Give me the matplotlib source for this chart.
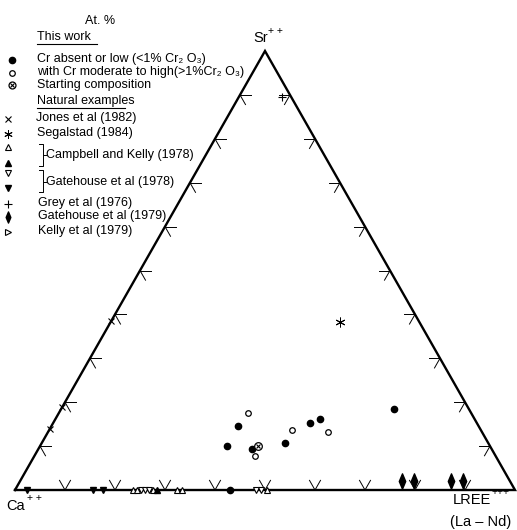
import numpy as np
import matplotlib
matplotlib.use("Agg")
import matplotlib.pyplot as plt
from matplotlib.path import Path

FONT = ["Liberation Sans", "DejaVu Sans"]
plt.rcParams["font.family"] = FONT

# ---- compositions (atomic fractions: Sr, LREE; Ca is the remainder) ----
# This work: Cr absent or low
low_cr_sr = [0.146, 0.100, 0.093, 0.107, 0.153, 0.162, 0.1845, 0.0]
low_cr_lree = [0.373, 0.374, 0.4275, 0.4865, 0.5135, 0.529, 0.666, 0.43]
# This work: Cr moderate to high
high_cr_sr = [0.175, 0.137, 0.132, 0.0775]
high_cr_lree = [0.3785, 0.4855, 0.560, 0.441]
# Starting composition
start_sr = [0.100]
start_lree = [0.436]
# Jones et al (1982)
jones_sr = [0.385, 0.190, 0.140]
jones_lree = [0.0, 0.0, 0.0]
# Segalstad (1984)
segalstad_sr = [0.383]
segalstad_lree = [0.4585]
# Campbell and Kelly (1978): open and filled
ck_open_sr = [0.0, 0.0, 0.0, 0.0, 0.0, 0.0]
ck_open_lree = [0.236, 0.245, 0.276, 0.324, 0.334, 0.504]
ck_fill_sr = [0.0]
ck_fill_lree = [0.284]
# Gatehouse et al (1978): open and filled
g78_open_sr = [0.0, 0.0, 0.0, 0.0, 0.0]
g78_open_lree = [0.252, 0.260, 0.268, 0.482, 0.492]
g78_fill_sr = [0.0, 0.0, 0.0]
g78_fill_lree = [0.024, 0.156, 0.176]
# Grey et al (1976)
grey_sr = [0.895]
grey_lree = [0.0865]
# Gatehouse et al (1979)
g79_sr = [0.02, 0.02, 0.02, 0.02]
g79_lree = [0.764, 0.788, 0.862, 0.886]

tick_fracs = [0.1, 0.2, 0.3, 0.4, 0.5, 0.6, 0.7, 0.8, 0.9]


def tern(sr, lree):
    sr = np.asarray(sr, float)
    lree = np.asarray(lree, float)
    return lree + sr / 2.0, sr


fig = plt.figure(figsize=(5.17, 5.30), dpi=100)
ax = fig.add_axes([0, 0, 1, 1])
ax.set_xlim(-0.03, 1.004)
ax.set_ylim(-0.0911, 1.1162)
ax.axis("off")

# triangle outline
tx, ty = tern([0, 1, 0, 0], [0, 0, 1, 0])
ax.plot(tx, ty, color="black", lw=1.7, solid_joinstyle="miter", zorder=2)

# chevron ticks along each side
d = 0.022
tk = dict(color="black", lw=0.7, zorder=2)
for f in tick_fracs:
    # Ca-Sr side
    x0, y0 = tern(f, 0)
    ax.plot([x0, x0 + d], [y0, y0], **tk)
    ax.plot([x0, x0 + d / 2], [y0, y0 - d], **tk)
    # Sr-LREE side
    x0, y0 = tern(f, 1 - f)
    ax.plot([x0, x0 - d], [y0, y0], **tk)
    ax.plot([x0, x0 - d / 2], [y0, y0 - d], **tk)
    # Ca-LREE side
    x0, y0 = tern(0, f)
    ax.plot([x0, x0 + d / 2], [y0, y0 + d], **tk)
    ax.plot([x0, x0 - d / 2], [y0, y0 + d], **tk)

# tall diamond marker
diamond = Path([(0, 1), (0.42, 0), (0, -1), (-0.42, 0), (0, 1)],
               [Path.MOVETO, Path.LINETO, Path.LINETO, Path.LINETO, Path.CLOSEPOLY])

styles = {
    "low": dict(marker="o", ms=4.5, color="black", ls="none"),
    "high": dict(marker="o", ms=4.0, mfc="white", mec="black", mew=0.9, ls="none"),
    "jones": dict(marker="x", ms=4.5, color="black", mew=0.8, ls="none"),
    "seg": dict(marker=(6, 2, 0), ms=7, color="black", mew=0.7, ls="none"),
    "ck_open": dict(marker="^", ms=5, mfc="white", mec="black", mew=0.8, ls="none"),
    "ck_fill": dict(marker="^", ms=5, color="black", ls="none"),
    "g78_open": dict(marker="v", ms=5, mfc="white", mec="black", mew=0.8, ls="none"),
    "g78_fill": dict(marker="v", ms=5, color="black", ls="none"),
    "grey": dict(marker="+", ms=6, color="black", mew=0.8, ls="none"),
    "g79": dict(marker=diamond, ms=11, color="black", ls="none"),
    "kelly": dict(marker=">", ms=4, mfc="white", mec="black", mew=0.8, ls="none"),
}


def start_marker(a, x, y, ms=5.5):
    a.plot(x, y, marker="o", ms=ms, mfc="white", mec="black", mew=0.9, ls="none", zorder=4)
    a.plot(x, y, marker="x", ms=ms * 0.6, color="black", mew=0.8, ls="none", zorder=5)


for (sr, lr, key) in [
    (low_cr_sr, low_cr_lree, "low"),
    (high_cr_sr, high_cr_lree, "high"),
    (jones_sr, jones_lree, "jones"),
    (segalstad_sr, segalstad_lree, "seg"),
    (ck_open_sr, ck_open_lree, "ck_open"),
    (ck_fill_sr, ck_fill_lree, "ck_fill"),
    (g78_open_sr, g78_open_lree, "g78_open"),
    (g78_fill_sr, g78_fill_lree, "g78_fill"),
    (grey_sr, grey_lree, "grey"),
    (g79_sr, g79_lree, "g79"),
]:
    x, y = tern(sr, lr)
    ax.plot(x, y, zorder=4, **styles[key])

sx, sy = tern(start_sr, start_lree)
start_marker(ax, sx, sy)

# ---- legend and labels in pixel space ----
lax = fig.add_axes([0, 0, 1, 1])
lax.set_xlim(0, 517)
lax.set_ylim(530, 0)
lax.axis("off")
lax.patch.set_alpha(0)

fs = 9
lax.text(100, 21, "At. %", fontsize=fs, ha="center", va="center")
lax.text(37, 37, "This work", fontsize=fs, va="center")
lax.plot([37, 97], [44, 44], color="black", lw=0.8)

rows = [
    (59, "low", "Cr absent or low (<1% Cr\u2082 O\u2083)"),
    (72, "high", "with Cr moderate to high(>1%Cr\u2082 O\u2083)"),
    (85, None, "Starting composition"),
]
for y, key, label in rows:
    if key:
        lax.plot(12, y + 1, **styles[key])
    else:
        start_marker(lax, 12, y, ms=5)
    lax.text(37, y, label, fontsize=fs, va="center")

lax.text(37, 101, "Natural examples", fontsize=fs, va="center")
lax.plot([37, 125], [108, 108], color="black", lw=0.8)

lax.plot(8, 119, **styles["jones"])
lax.text(36, 118, "Jones et al (1982)", fontsize=fs, va="center")
lax.plot(8, 134, **{**styles["seg"], "ms": 6})
lax.text(37, 133, "Segalstad (1984)", fontsize=fs, va="center")

lax.plot(8, 147, **{**styles["ck_open"], "ms": 4.5})
lax.plot(8, 163, **{**styles["ck_fill"], "ms": 4.5})
lax.plot([39, 43, 43, 39], [144, 144, 166, 166], color="black", lw=0.7)
lax.plot([43, 46], [155, 155], color="black", lw=0.7)
lax.text(46, 155, "Campbell and Kelly (1978)", fontsize=fs, va="center")

lax.plot(8, 173, **{**styles["g78_open"], "ms": 4.5})
lax.plot(8, 188, **{**styles["g78_fill"], "ms": 4.5})
lax.plot([39, 43, 43, 39], [170, 170, 192, 192], color="black", lw=0.7)
lax.plot([43, 46], [182, 182], color="black", lw=0.7)
lax.text(46, 182, "Gatehouse et al (1978)", fontsize=fs, va="center")

lax.plot(8, 204, **styles["grey"])
lax.text(38, 203, "Grey et al (1976)", fontsize=fs, va="center")
lax.plot(8, 217, **{**styles["g79"], "ms": 8})
lax.text(38, 216, "Gatehouse et al (1979)", fontsize=fs, va="center")
lax.plot(8, 232, **styles["kelly"])
lax.text(38, 231, "Kelly et al (1979)", fontsize=fs, va="center")

# vertex labels
vfs = 10.5
lax.text(261, 38, "Sr", fontsize=vfs, ha="center", va="center")
lax.text(268, 31, "+ +", fontsize=7.5, ha="left", va="center")
lax.text(6, 506, "Ca", fontsize=vfs, ha="left", va="center")
lax.text(27, 498, "+ +", fontsize=7.5, ha="left", va="center")
lax.text(453, 500, "LREE", fontsize=vfs, ha="left", va="center")
lax.text(492, 492, "+++", fontsize=7.5, ha="left", va="center")
lax.text(481, 522, "(La – Nd)", fontsize=vfs, ha="center", va="center")

fig.savefig("out.png", dpi=100)
